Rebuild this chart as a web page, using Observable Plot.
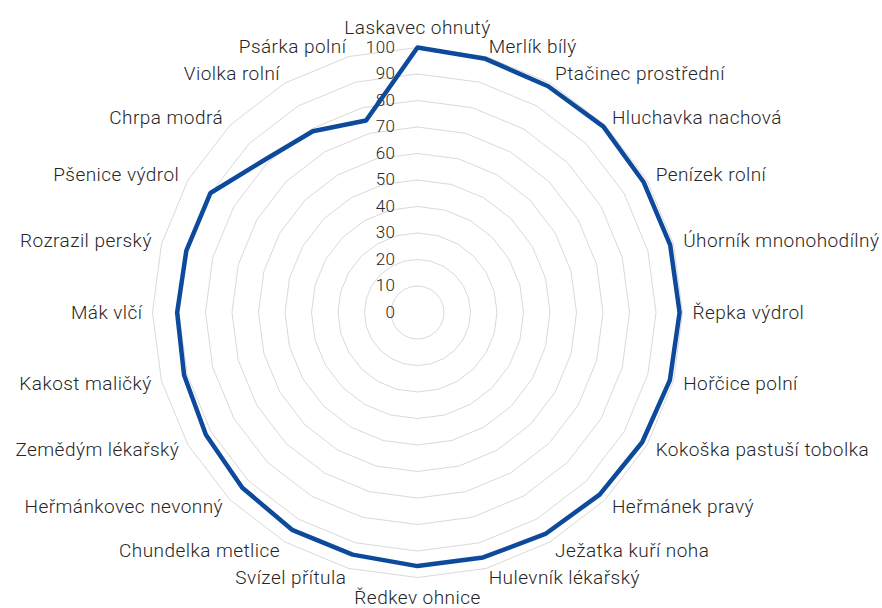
<!DOCTYPE html>
<html>
<head>
<meta charset="utf-8">
<script src="https://cdn.jsdelivr.net/npm/d3@7"></script>
<script src="https://cdn.jsdelivr.net/npm/@observablehq/plot@0.6"></script>
<style>
  html, body { margin: 0; padding: 0; background: #fff; }
  #chart svg { display: block; }
  #chart svg text { letter-spacing: 0.45px; }
</style>
</head>
<body>
<div id="chart"></div>
<script>
const categories = [
  "Laskavec ohnutý", "Merlík bílý", "Ptačinec prostřední", "Hluchavka nachová",
  "Penízek rolní", "Úhorník mnonohodílný", "Řepka výdrol", "Hořčice polní",
  "Kokoška pastuší tobolka", "Heřmánek pravý", "Ježatka kuří noha", "Hulevník lékařský",
  "Ředkev ohnice", "Svízel přítula", "Chundelka metlice", "Heřmánkovec nevonný",
  "Zemědým lékařský", "Kakost maličký", "Mák vlčí", "Rozrazil perský",
  "Pšenice výdrol", "Chrpa modrá", "Violka rolní", "Psárka polní"
];
const values = [
  100, 99.1, 98.6, 99.2,
  98.5, 98.7, 98.9, 98.6,
  97.9, 97.2, 96.5, 95.7,
  95.7, 94.6, 94.7, 93.5,
  92.2, 91.2, 90.7, 90.3,
  90.2, 81.5, 79, 75
];
const ticks = [0, 10, 20, 30, 40, 50, 60, 70, 80, 90, 100];

const W = 882, H = 608;
const cx = 417, cy = 312, R100 = 265;
const k = R100 / 100; // px per unit
const n = categories.length;
const ang = i => 2 * Math.PI * i / n;

const seriesPts = values.map((v, i) => ({x: v * Math.sin(ang(i)), y: v * Math.cos(ang(i))}));
seriesPts.push(seriesPts[0]);

const ringPts = [];
for (const t of ticks.slice(1)) {
  for (let i = 0; i <= n; i++) {
    ringPts.push({ring: t, x: t * Math.sin(ang(i % n)), y: t * Math.cos(ang(i % n))});
  }
}

const labelR = 275 / k, labelRv = 285 / k;
const labels = categories.map((c, i) => {
  const s = Math.sin(ang(i)), co = Math.cos(ang(i));
  const vert = Math.abs(s) < 1e-6;
  const r = vert ? labelRv : labelR;
  return {text: c, x: r * s, y: r * co, anchor: vert ? "middle" : (s > 0 ? "start" : "end")};
});

const font = "Roboto, 'Helvetica Neue', Arial, sans-serif";
const txtColor = "#262626";

const chart = Plot.plot({
  width: W,
  height: H,
  margin: 0,
  x: {domain: [-cx / k, (W - cx) / k], range: [0, W], axis: null},
  y: {domain: [-(H - cy) / k, cy / k], range: [H, 0], axis: null},
  style: {fontFamily: font, background: "#fff"},
  marks: [
    Plot.line(ringPts, {x: "x", y: "y", z: "ring", stroke: "#d9d9d9", strokeWidth: 1}),
    Plot.text(ticks, {x: () => 0, y: d => d, text: d => String(d), textAnchor: "end", dx: -22,
      fontSize: 17, fontWeight: 300, fill: txtColor}),
    ...["middle", "start", "end"].map(a =>
      Plot.text(labels.filter(d => d.anchor === a), {x: "x", y: "y", text: "text", textAnchor: a,
        fontSize: 19, fontWeight: 300, fill: txtColor})
    ),
    Plot.line(seriesPts, {x: "x", y: "y", stroke: "#0d4a9c", strokeWidth: 4.5,
      strokeLinejoin: "miter", curve: "linear"})
  ]
});
document.getElementById("chart").appendChild(chart);
</script>
</body>
</html>
